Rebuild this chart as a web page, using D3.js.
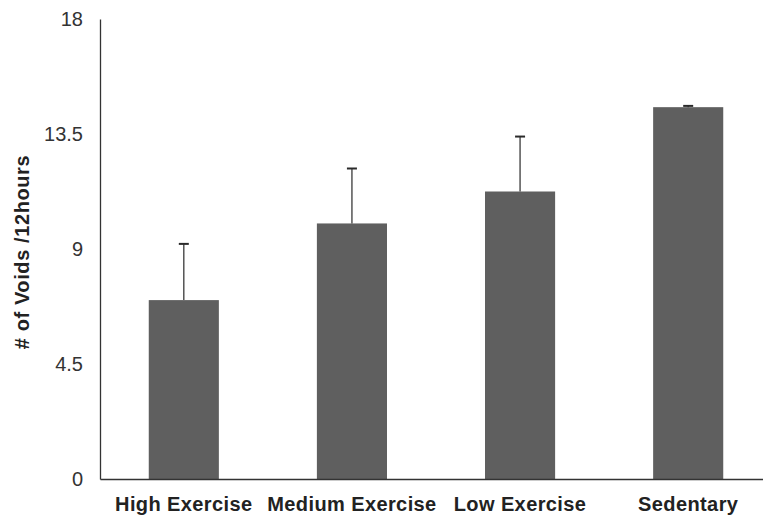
<!DOCTYPE html>
<html><head><meta charset="utf-8">
<script src="https://cdn.jsdelivr.net/npm/d3@7"></script>
<style>body{margin:0;background:#fff}svg{display:block}</style>
</head><body>
<svg id="c" width="763" height="518"></svg>
<script>
const categories = ["High Exercise","Medium Exercise","Low Exercise","Sedentary"];
const values = [7.0, 10.0, 11.25, 14.55];
const errors = [2.2, 2.15, 2.15, 0.05];
const yTicks = [0, 4.5, 9, 13.5, 18];

const svg = d3.select("#c");
const x0 = 100, x1 = 772, yTop = 19, yBot = 479;
const x = d3.scaleBand().domain(categories).range([x0, x1]).paddingInner(0.583).paddingOuter(0.29);
const y = d3.scaleLinear().domain([0, 18]).range([yBot, yTop]);
const font = "Liberation Sans, Arial, sans-serif";

// bars
svg.selectAll("rect.bar").data(categories).enter().append("rect")
  .attr("x", d => x(d)).attr("width", x.bandwidth())
  .attr("y", (d,i) => y(values[i])).attr("height", (d,i) => yBot - y(values[i]))
  .attr("fill", "#5f5f5f");

// error bars
const eb = svg.selectAll("g.err").data(categories).enter().append("g");
eb.append("line")
  .attr("x1", d => x(d) + x.bandwidth()/2).attr("x2", d => x(d) + x.bandwidth()/2)
  .attr("y1", (d,i) => y(values[i])).attr("y2", (d,i) => y(values[i] + errors[i]))
  .attr("stroke", "#3a3a3a").attr("stroke-width", 1.3);
eb.append("line")
  .attr("x1", d => x(d) + x.bandwidth()/2 - 5).attr("x2", d => x(d) + x.bandwidth()/2 + 5)
  .attr("y1", (d,i) => y(values[i] + errors[i])).attr("y2", (d,i) => y(values[i] + errors[i]))
  .attr("stroke", "#2a2a2a").attr("stroke-width", 2);

// axes
const yAxis = d3.axisLeft(y).tickValues(yTicks).tickSize(0).tickPadding(17).tickFormat(d => String(d));
const gy = svg.append("g").attr("transform", `translate(${x0},0)`).call(yAxis);
gy.select(".domain").attr("stroke", "#333").attr("stroke-width", 1.3);
gy.selectAll("text").attr("font-family", font).attr("font-size", 20).attr("fill", "#333");

const xAxis = d3.axisBottom(x).tickSize(0).tickPadding(18);
const gx = svg.append("g").attr("transform", `translate(0,${yBot})`).call(xAxis);
gx.select(".domain").attr("stroke", "#333").attr("stroke-width", 1.3);
gx.selectAll("text").attr("font-family", font).attr("font-size", 20)
  .attr("font-weight", "bold").attr("fill", "#222").attr("letter-spacing", "0.4px");

svg.append("text").attr("transform", "translate(29,252) rotate(-90)")
  .attr("text-anchor", "middle").attr("font-family", font)
  .attr("font-size", 20).attr("font-weight", "bold").attr("fill", "#222").attr("letter-spacing", "0.6px")
  .text("# of Voids /12hours");
</script>
</body></html>
